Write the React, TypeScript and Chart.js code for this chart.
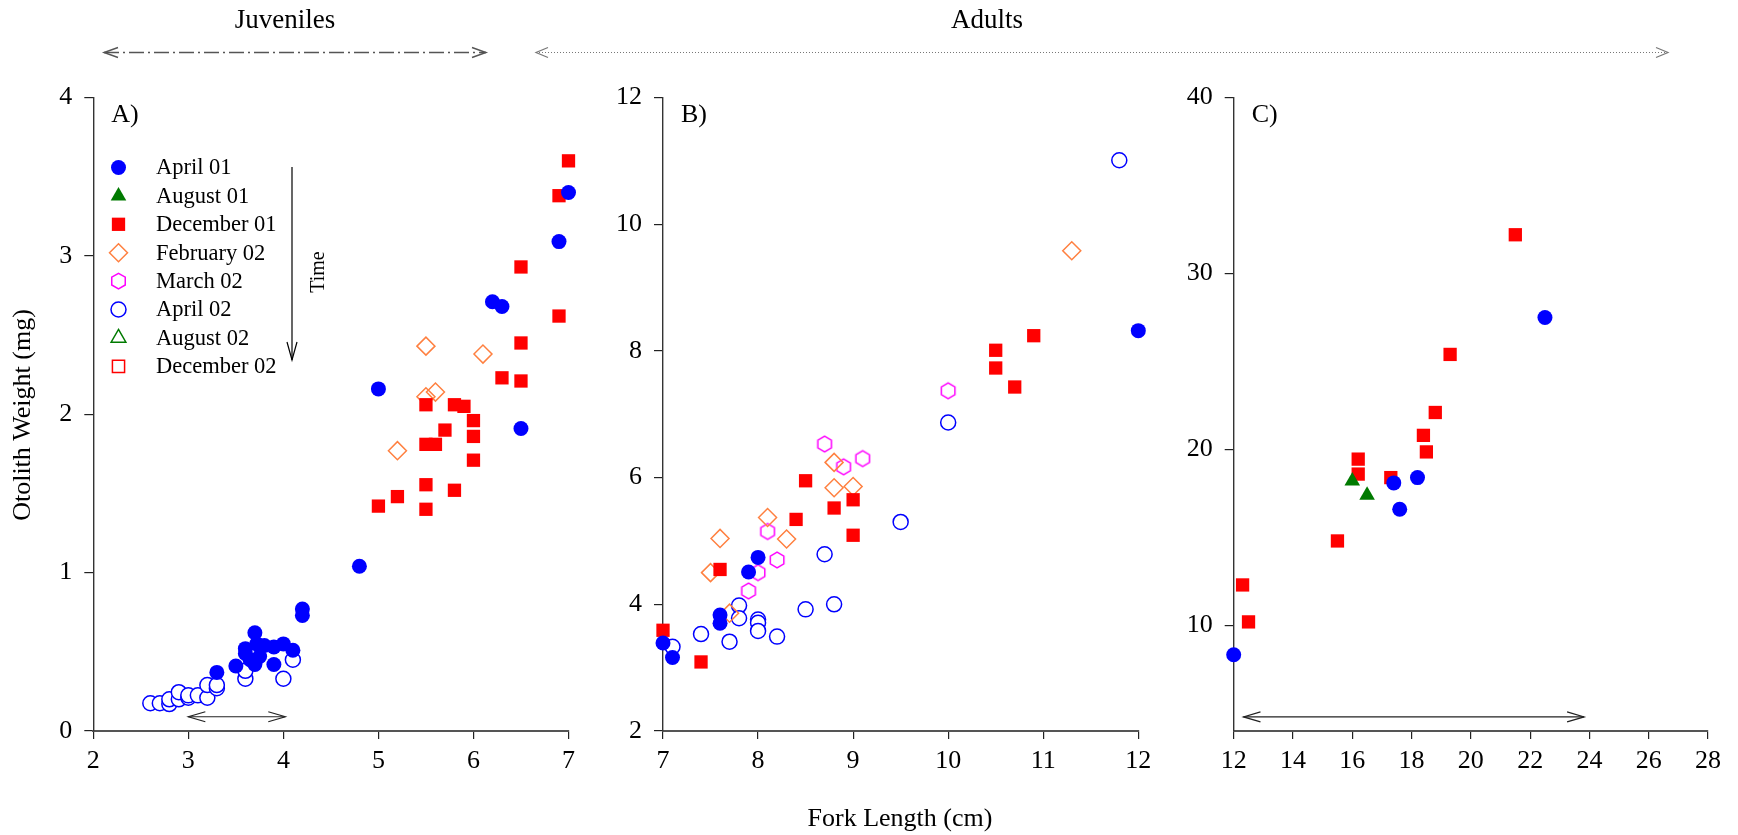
import React, { useEffect, useRef } from 'react';
import { Chart, registerables } from 'chart.js';

Chart.register(...registerables);

const W = 1738;
const H = 835;
const FONT = '"Liberation Serif", "Times New Roman", serif';

// ---------- series names ----------
const SERIES = ['April 01', 'August 01', 'December 01', 'February 02', 'March 02', 'April 02', 'August 02', 'December 02'];

// ---------- Panel A (juveniles) ----------
const A_X_TICKS = [2, 3, 4, 5, 6, 7];
const A_Y_TICKS = [0, 1, 2, 3, 4];
const A_APR01 = [
  [3.3, 0.37], [3.5, 0.41], [3.6, 0.49], [3.6, 0.52], [3.65, 0.45], [3.7, 0.62], [3.7, 0.42], [3.72, 0.55],
  [3.75, 0.47], [3.8, 0.54], [3.9, 0.53], [3.9, 0.42], [4.0, 0.55], [4.1, 0.51], [4.2, 0.77], [4.2, 0.73],
  [4.8, 1.04], [5.0, 2.16], [6.2, 2.71], [6.3, 2.68], [6.5, 1.91], [6.9, 3.09], [7.0, 3.40],
];
const A_DEC01 = [
  [5.0, 1.42], [5.2, 1.48], [5.5, 1.40], [5.5, 1.555], [5.5, 1.81], [5.5, 2.06], [5.6, 1.81], [5.7, 1.90],
  [5.8, 1.52], [5.8, 2.06], [5.9, 2.05], [6.0, 1.71], [6.0, 1.86], [6.0, 1.96], [6.3, 2.23], [6.5, 2.21],
  [6.5, 2.45], [6.5, 2.93], [6.9, 2.62], [6.9, 3.38], [7.0, 3.60],
];
const A_FEB02 = [[5.2, 1.77], [5.5, 2.11], [5.5, 2.43], [5.6, 2.14], [6.1, 2.38]];
const A_APR02 = [
  [2.6, 0.175], [2.7, 0.175], [2.8, 0.17], [2.8, 0.2], [2.9, 0.2], [2.9, 0.245], [3.0, 0.21], [3.0, 0.225],
  [3.1, 0.225], [3.2, 0.21], [3.2, 0.29], [3.3, 0.27], [3.3, 0.29], [3.6, 0.33], [3.6, 0.38], [4.0, 0.33], [4.1, 0.45],
];
const A_RANGE = [3.0, 4.02, 0.09]; // from x, to x, at y

// ---------- Panel B (adults) ----------
const B_X_TICKS = [7, 8, 9, 10, 11, 12];
const B_Y_TICKS = [2, 4, 6, 8, 10, 12];
const B_APR01 = [[7.0, 3.39], [7.1, 3.16], [7.6, 3.70], [7.6, 3.83], [7.9, 4.51], [8.0, 4.74], [12.0, 8.32]];
const B_DEC01 = [
  [7.0, 3.59], [7.4, 3.09], [7.6, 4.55], [8.4, 5.34], [8.5, 5.95], [8.8, 5.52], [9.0, 5.65], [9.0, 5.09],
  [10.5, 7.73], [10.5, 8.01], [10.7, 7.43], [10.9, 8.24],
];
const B_FEB02 = [[7.5, 4.50], [7.6, 5.04], [7.7, 3.86], [8.1, 5.37], [8.3, 5.03], [8.8, 6.24], [8.8, 5.84], [9.0, 5.86], [11.3, 9.58]];
const B_MAR02 = [[7.9, 4.21], [8.0, 4.50], [8.1, 5.15], [8.2, 4.70], [8.7, 6.53], [8.9, 6.17], [9.1, 6.30], [10.0, 7.37]];
const B_APR02 = [
  [7.1, 3.33], [7.4, 3.53], [7.7, 3.41], [7.8, 3.98], [7.8, 3.78], [8.0, 3.76], [8.0, 3.71], [8.0, 3.58],
  [8.2, 3.49], [8.5, 3.92], [8.8, 4.0], [8.7, 4.79], [9.5, 5.30], [10.0, 6.87], [11.8, 11.01],
];

// ---------- Panel C (adults, larger) ----------
const C_X_TICKS = [12, 14, 16, 18, 20, 22, 24, 26, 28];
const C_Y_TICKS = [10, 20, 30, 40];
const C_Y_MIN = 4;
const C_APR01 = [[12.0, 8.33], [17.4, 18.1], [17.6, 16.6], [18.2, 18.4], [22.5, 27.5]];
const C_AUG01 = [[16.0, 18.2], [16.5, 17.4]];
const C_DEC01 = [
  [12.3, 12.3], [12.5, 10.2], [15.5, 14.8], [16.2, 19.45], [16.2, 18.6], [17.3, 18.4], [18.4, 20.8],
  [18.5, 19.86], [18.8, 22.1], [19.3, 25.4], [21.5, 32.2],
];
const C_RANGE = [12.33, 23.82, 4.8];

// ---------- marker styles ----------
type MStyle = { shape: string; r: number; fill: string; stroke: string; bw: number };
const STYLE: Record<string, MStyle> = {
  'April 01': { shape: 'circle', r: 7.5, fill: '#0000ff', stroke: '#0000ff', bw: 0 },
  'August 01': { shape: 'triangle', r: 9, fill: '#007a00', stroke: '#007a00', bw: 0 },
  'December 01': { shape: 'rect', r: 9.4, fill: '#ff0000', stroke: '#ff0000', bw: 0 },
  'February 02': { shape: 'rectRot', r: 9, fill: 'rgba(0,0,0,0)', stroke: '#ff8040', bw: 1.5 },
  'March 02': { shape: 'hex', r: 7.8, fill: 'rgba(0,0,0,0)', stroke: '#ff00ff', bw: 1.5 },
  'April 02': { shape: 'circle', r: 7.5, fill: '#ffffff', stroke: '#0000ff', bw: 1.5 },
  'August 02': { shape: 'triangle', r: 8.5, fill: 'rgba(0,0,0,0)', stroke: '#007a00', bw: 1.5 },
  'December 02': { shape: 'rect', r: 8.6, fill: 'rgba(0,0,0,0)', stroke: '#ff0000', bw: 1.5 },
};

function markerPath(ctx: CanvasRenderingContext2D, shape: string, x: number, y: number, r: number) {
  ctx.beginPath();
  if (shape === 'circle') {
    ctx.arc(x, y, r, 0, Math.PI * 2);
  } else if (shape === 'triangle') {
    for (let k = 0; k < 3; k++) {
      const a = -Math.PI / 2 + (k * 2 * Math.PI) / 3;
      const px = x + Math.cos(a) * r;
      const py = y + Math.sin(a) * r;
      if (k === 0) ctx.moveTo(px, py); else ctx.lineTo(px, py);
    }
    ctx.closePath();
  } else if (shape === 'rect') {
    const s = r * Math.SQRT1_2;
    ctx.rect(x - s, y - s, 2 * s, 2 * s);
  } else if (shape === 'rectRot') {
    ctx.moveTo(x, y - r); ctx.lineTo(x + r, y); ctx.lineTo(x, y + r); ctx.lineTo(x - r, y); ctx.closePath();
  } else if (shape === 'hex') {
    for (let k = 0; k < 6; k++) {
      const a = -Math.PI / 2 + (k * Math.PI) / 3;
      const px = x + Math.cos(a) * r;
      const py = y + Math.sin(a) * r;
      if (k === 0) ctx.moveTo(px, py); else ctx.lineTo(px, py);
    }
    ctx.closePath();
  }
}

function drawMarker(ctx: CanvasRenderingContext2D, st: MStyle, x: number, y: number) {
  markerPath(ctx, st.shape, x, y, st.r);
  ctx.fillStyle = st.fill;
  ctx.fill();
  if (st.bw > 0) {
    ctx.lineWidth = st.bw;
    ctx.strokeStyle = st.stroke;
    ctx.stroke();
  }
}

let hexCanvas: HTMLCanvasElement | null = null;
function getHex(): HTMLCanvasElement {
  if (hexCanvas) return hexCanvas;
  const st = STYLE['March 02'];
  const size = Math.ceil(st.r * 2 + 4);
  const c = document.createElement('canvas');
  c.width = size; c.height = size;
  const ctx = c.getContext('2d')!;
  drawMarker(ctx, st, size / 2, size / 2);
  hexCanvas = c;
  return c;
}

function dataset(name: string, pts: number[][]) {
  const st = STYLE[name];
  return {
    label: name,
    data: pts.map(([x, y]) => ({ x, y })),
    pointStyle: st.shape === 'hex' ? getHex() : st.shape,
    pointRadius: st.r,
    pointHoverRadius: st.r,
    backgroundColor: st.fill,
    borderColor: st.stroke,
    borderWidth: st.bw,
    showLine: false,
    clip: false as any,
  };
}

function arrowHead(ctx: CanvasRenderingContext2D, x: number, y: number, dir: number, len: number, half: number) {
  ctx.save();
  ctx.setLineDash([]);
  ctx.beginPath();
  ctx.moveTo(x - dir * len, y - half);
  ctx.lineTo(x, y);
  ctx.lineTo(x - dir * len, y + half);
  ctx.stroke();
  ctx.restore();
}

function doubleArrow(ctx: CanvasRenderingContext2D, x1: number, x2: number, y: number, dash: number[], color: string, lw: number, len: number, half: number) {
  ctx.save();
  ctx.strokeStyle = color;
  ctx.lineWidth = lw;
  ctx.setLineDash(dash);
  ctx.beginPath();
  ctx.moveTo(x1, y);
  ctx.lineTo(x2, y);
  ctx.stroke();
  arrowHead(ctx, x1, y, -1, len, half);
  arrowHead(ctx, x2, y, 1, len, half);
  ctx.restore();
}

// global decorations (titles, legend, time arrow) drawn by panel A chart
const decorPlugin = {
  id: 'decor',
  afterDraw(chart: any) {
    const ctx: CanvasRenderingContext2D = chart.ctx;
    ctx.save();
    ctx.fillStyle = '#000';
    ctx.textAlign = 'center';
    ctx.textBaseline = 'middle';
    ctx.font = `27px ${FONT}`;
    ctx.fillText('Juveniles', 285, 21);
    ctx.fillText('Adults', 987, 21);
    doubleArrow(ctx, 104, 486, 52.5, [15, 4, 2, 4], '#555', 1.4, 14, 5);
    doubleArrow(ctx, 536, 1668, 52.5, [1, 2], '#777', 1.2, 12, 5);

    // axis titles
    ctx.fillStyle = '#000';
    ctx.font = `26px ${FONT}`;
    ctx.fillText('Fork Length (cm)', 900, 819);
    ctx.save();
    ctx.translate(23, 415);
    ctx.rotate(-Math.PI / 2);
    ctx.fillText('Otolith Weight (mg)', 0, 0);
    ctx.restore();

    // time arrow
    ctx.strokeStyle = '#000';
    ctx.lineWidth = 1.2;
    ctx.beginPath();
    ctx.moveTo(292, 167);
    ctx.lineTo(292, 360);
    ctx.stroke();
    ctx.beginPath();
    ctx.moveTo(287, 342);
    ctx.lineTo(292, 360);
    ctx.lineTo(297, 342);
    ctx.stroke();
    ctx.save();
    ctx.translate(319, 272);
    ctx.rotate(-Math.PI / 2);
    ctx.font = `20px ${FONT}`;
    ctx.fillText('Time', 0, 0);
    ctx.restore();

    // legend
    ctx.textAlign = 'left';
    ctx.font = `22.5px ${FONT}`;
    SERIES.forEach((name, i) => {
      const y = 167.5 + i * 28.4;
      drawMarker(ctx, STYLE[name], 118.5, y);
      ctx.fillStyle = '#000';
      ctx.fillText(name, 156, y + 1);
    });
    ctx.restore();
  },
};

function panelPlugin(label: string, range: number[] | null) {
  return {
    id: 'panel' + label,
    afterDraw(chart: any) {
      const ctx: CanvasRenderingContext2D = chart.ctx;
      const area = chart.chartArea;
      ctx.save();
      ctx.fillStyle = '#000';
      ctx.font = `26px ${FONT}`;
      ctx.textAlign = 'left';
      ctx.textBaseline = 'middle';
      ctx.fillText(label, area.left + 18, area.top + 18);
      if (range) {
        const xs = chart.scales.x;
        const ys = chart.scales.y;
        doubleArrow(ctx, xs.getPixelForValue(range[0]), xs.getPixelForValue(range[1]), ys.getPixelForValue(range[2]), [], '#222', 1.2, 17, 5);
      }
      ctx.restore();
    },
  };
}

function makeConfig(
  datasets: any[], xTicks: number[], yTicks: number[], yMin: number, yMax: number,
  left: number, right: number, plugins: any[],
) {
  const TOP = 97.5;
  const BOTTOM = 731;
  const YW = 60;
  const XH = 60;
  const tickFont = { family: FONT, size: 26 };
  return {
    type: 'scatter' as const,
    data: { datasets },
    options: {
      animation: false as const,
      responsive: false,
      devicePixelRatio: 1,
      events: [],
      layout: { padding: { left: left - YW, right: W - right, top: TOP, bottom: H - BOTTOM - XH } },
      plugins: { legend: { display: false }, tooltip: { enabled: false }, title: { display: false } },
      scales: {
        x: {
          type: 'linear' as const,
          min: xTicks[0],
          max: xTicks[xTicks.length - 1],
          afterBuildTicks: (s: any) => { s.ticks = xTicks.map((v) => ({ value: v })); },
          afterFit: (s: any) => { s.height = XH; s.paddingLeft = 0; s.paddingRight = 0; },
          grid: { display: true, drawOnChartArea: false, drawTicks: true, tickLength: 8, color: '#222', lineWidth: 1.2 },
          border: { display: true, color: '#555', width: 2 },
          ticks: { font: tickFont, color: '#000', padding: 7, maxRotation: 0, autoSkip: false },
        },
        y: {
          type: 'linear' as const,
          min: yMin,
          max: yMax,
          afterBuildTicks: (s: any) => { s.ticks = yTicks.map((v) => ({ value: v })); },
          afterFit: (s: any) => { s.width = YW; s.paddingTop = 0; s.paddingBottom = 0; },
          grid: { display: true, drawOnChartArea: false, drawTicks: true, tickLength: 9, color: '#222', lineWidth: 1.2 },
          border: { display: true, color: '#333', width: 1.4 },
          ticks: { font: tickFont, color: '#000', padding: 12, autoSkip: false },
        },
      },
    },
    plugins,
  };
}

export default function App() {
  const refA = useRef<HTMLCanvasElement>(null);
  const refB = useRef<HTMLCanvasElement>(null);
  const refC = useRef<HTMLCanvasElement>(null);

  useEffect(() => {
    document.body.style.margin = '0';
    Chart.defaults.font.family = FONT;

    const cfgA = makeConfig(
      [
        dataset('April 01', A_APR01),
        dataset('December 01', A_DEC01),
        dataset('February 02', A_FEB02),
        dataset('April 02', A_APR02),
      ],
      A_X_TICKS, A_Y_TICKS, A_Y_TICKS[0], A_Y_TICKS[A_Y_TICKS.length - 1],
      93.3, 568.5, [decorPlugin, panelPlugin('A)', A_RANGE)],
    );
    const cfgB = makeConfig(
      [
        dataset('April 01', B_APR01),
        dataset('December 01', B_DEC01),
        dataset('February 02', B_FEB02),
        dataset('March 02', B_MAR02),
        dataset('April 02', B_APR02),
      ],
      B_X_TICKS, B_Y_TICKS, B_Y_TICKS[0], B_Y_TICKS[B_Y_TICKS.length - 1],
      663, 1138.3, [panelPlugin('B)', null)],
    );
    const cfgC = makeConfig(
      [
        dataset('April 01', C_APR01),
        dataset('August 01', C_AUG01),
        dataset('December 01', C_DEC01),
      ],
      C_X_TICKS, C_Y_TICKS, C_Y_MIN, C_Y_TICKS[C_Y_TICKS.length - 1],
      1233.7, 1708, [panelPlugin('C)', C_RANGE)],
    );

    const charts = [
      new Chart(refA.current!, cfgA as any),
      new Chart(refB.current!, cfgB as any),
      new Chart(refC.current!, cfgC as any),
    ];
    return () => charts.forEach((c) => c.destroy());
  }, []);

  const cs: React.CSSProperties = { position: 'absolute', left: 0, top: 0, width: W, height: H };
  return (
    <div style={{ position: 'relative', width: W, height: H, background: '#fff' }}>
      <canvas ref={refA} width={W} height={H} style={cs} />
      <canvas ref={refB} width={W} height={H} style={cs} />
      <canvas ref={refC} width={W} height={H} style={cs} />
    </div>
  );
}
